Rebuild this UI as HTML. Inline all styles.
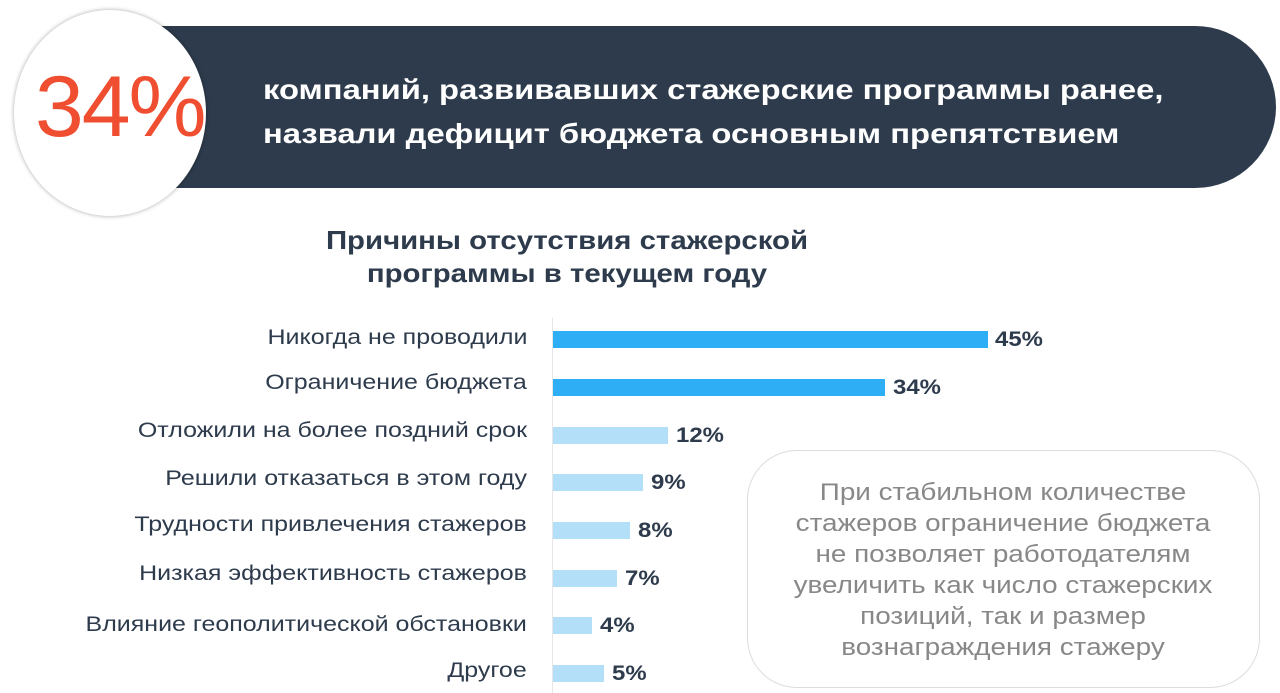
<!DOCTYPE html>
<html><head><meta charset="utf-8"><style>
body{margin:0;width:1280px;height:693px;background:#fff;position:relative;overflow:hidden;font-family:"Liberation Sans",sans-serif}
.band{position:absolute;left:160px;top:26px;width:1116px;height:162px;background:#2d3b4c;border-radius:0 81px 81px 0}
.circ{position:absolute;left:14px;top:10px;width:192px;height:206px;border-radius:50%;background:#fff;box-shadow:0 0 4px rgba(0,0,0,.35)}
.big{position:absolute;left:35px;top:58px;font-size:86px;color:#f04e30;letter-spacing:-2px;transform:scaleX(1.02);transform-origin:left}
.ht{position:absolute;left:263px;top:68px;color:#fff;font-weight:bold;font-size:28px;line-height:44px;white-space:nowrap;transform:scaleX(1.17);transform-origin:left}
.title{position:absolute;left:267px;top:224px;width:600px;text-align:center;color:#2d3b4c;font-weight:bold;font-size:26px;line-height:33px;transform:scaleX(1.13);transform-origin:center}
.lab{position:absolute;right:753px;font-size:21px;color:#2d3b4c;white-space:nowrap;transform:scaleX(1.19);transform-origin:right}
.bar{position:absolute;left:553px;height:17px}
.val{position:absolute;font-size:21px;font-weight:bold;color:#2d3b4c;transform:scaleX(1.14);transform-origin:left}
.axis{position:absolute;left:552px;top:318px;width:1px;height:375px;background:#e6e6e6}
.note{position:absolute;left:747px;top:450px;width:513px;height:238px;border:1.5px solid #ddd;border-radius:50px;box-sizing:border-box}
.nt{position:absolute;left:737px;top:477px;width:532px;text-align:center;color:#888;font-size:24px;line-height:31px;transform:scaleX(1.16);transform-origin:center}
</style></head><body>
<div class="band"></div>
<div class="circ"></div>
<div class="big">34%</div>
<div class="ht">компаний, развивавших стажерские программы ранее,<br>назвали дефицит бюджета основным препятствием</div>
<div class="title">Причины отсутствия стажерской<br>программы в текущем году</div>
<div class="axis"></div>
<div class="lab" style="top:326px">Никогда не проводили</div>
<div class="lab" style="top:371px">Ограничение бюджета</div>
<div class="lab" style="top:419px">Отложили на более поздний срок</div>
<div class="lab" style="top:467px">Решили отказаться в этом году</div>
<div class="lab" style="top:513px">Трудности привлечения стажеров</div>
<div class="lab" style="top:562px">Низкая эффективность стажеров</div>
<div class="lab" style="top:613px">Влияние геополитической обстановки</div>
<div class="lab" style="top:659px">Другое</div>
<div class="bar" style="top:331px;width:435px;background:#2eaef5"></div><div class="val" style="left:995px;top:328px">45%</div>
<div class="bar" style="top:379px;width:332px;background:#2eaef5"></div><div class="val" style="left:893px;top:376px">34%</div>
<div class="bar" style="top:427px;width:115px;background:#b3dff8"></div><div class="val" style="left:676px;top:424px">12%</div>
<div class="bar" style="top:474px;width:90px;background:#b3dff8"></div><div class="val" style="left:651px;top:471px">9%</div>
<div class="bar" style="top:522px;width:77px;background:#b3dff8"></div><div class="val" style="left:638px;top:519px">8%</div>
<div class="bar" style="top:570px;width:64px;background:#b3dff8"></div><div class="val" style="left:625px;top:567px">7%</div>
<div class="bar" style="top:617px;width:39px;background:#b3dff8"></div><div class="val" style="left:600px;top:614px">4%</div>
<div class="bar" style="top:665px;width:51px;background:#b3dff8"></div><div class="val" style="left:612px;top:662px">5%</div>
<div class="note"></div>
<div class="nt">При стабильном количестве<br>стажеров ограничение бюджета<br>не позволяет работодателям<br>увеличить как число стажерских<br>позиций, так и размер<br>вознаграждения стажеру</div>
</body></html>
